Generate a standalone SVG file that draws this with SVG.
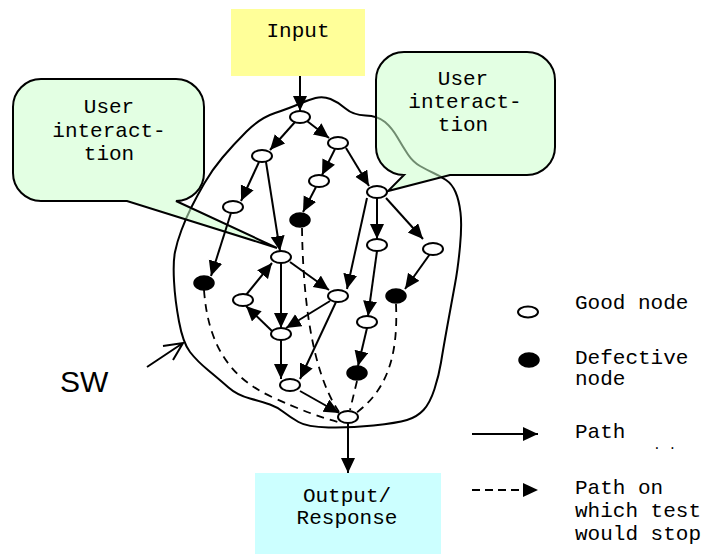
<svg xmlns="http://www.w3.org/2000/svg" width="704" height="554" viewBox="0 0 704 554">
  <style>
    .mono { font-family: "Liberation Mono", "Courier New", monospace; font-size: 21px; fill: #000; }
    .good { fill: #fff; stroke: #000; stroke-width: 2; }
    .bad { fill: #000; stroke: #000; stroke-width: 1.5; }
    .edge { fill: none; stroke: #000; stroke-width: 2; marker-end: url(#arrow); }
    .dash { fill: none; stroke: #000; stroke-width: 1.8; stroke-dasharray: 8 6; }
    .callout { fill: #ccffcc; fill-opacity: 0.55; stroke: #000; stroke-width: 2; stroke-linejoin: miter; }
  </style>
  <defs>
    <marker id="arrow" markerUnits="userSpaceOnUse" markerWidth="17" markerHeight="15" refX="15" refY="7" orient="auto">
      <path d="M0,0 L15,7 L0,14 Z" fill="#000"/>
    </marker>
  </defs>

  <rect width="704" height="554" fill="#fff"/>

  <!-- software boundary -->
  <g id="sw-boundary">
    <path d="M174,281 Q173,262 175,252 Q177,242 181.5,230 Q186,218 191.5,207 Q197,196 204.5,183 Q212,170 222.5,157.5 Q233,145 246.5,131.5 Q260,118 275,113 Q290,108 299,104 Q308,100 315.5,98 Q323,96 330.5,99 Q338,102 345.5,108.5 Q353,115 365.5,115.5 Q378,116 385,122 Q392,128 397.5,137.5 Q403,147 408,154.5 Q413,162 420,166 Q427,170 433.5,173 Q440,176 446,180 Q452,184 455.5,192 Q459,200 460.5,212.5 Q462,225 460,246.5 Q458,268 455,284 Q452,300 447.5,325 Q443,350 441,362.5 Q439,375 434.5,389 Q430,403 423.5,410 Q417,417 407,420 Q397,423 373.5,425.5 Q350,428 328.5,427.5 Q307,427 298.5,422 Q290,417 283.5,412 Q277,407 270,404.5 Q263,402 250,398.5 Q237,395 228.5,387.5 Q220,380 208.5,370.5 Q197,361 190,352 Q183,343 179,321.5 Q175,300 174,281 Z" fill="none" stroke="#000" stroke-width="2"/>
    <path d="M147,367 L183,343 M163,346 L183,343 L173,360" fill="none" stroke="#000" stroke-width="2"/>
    <text x="60" y="392" font-family="'Liberation Sans', Arial, sans-serif" font-size="30">SW</text>
  </g>

  <!-- callouts -->
  <g id="callout-left">
    <path class="callout" d="M41,79 H176 A28,28 0 0 1 204,107 V173 A28,28 0 0 1 176,201 L277,248 L127,201 H41 A28,28 0 0 1 13,173 V107 A28,28 0 0 1 41,79 Z"/>
    <text class="mono" text-anchor="middle" x="109" y="113">User</text>
    <text class="mono" text-anchor="middle" x="109" y="137">interact-</text>
    <text class="mono" text-anchor="middle" x="109" y="160">tion</text>
  </g>
  <g id="callout-right">
    <path class="callout" d="M404,52 H527 A28,28 0 0 1 555,80 V147 A28,28 0 0 1 527,175 H450 L388,191 L404,175 A28,28 0 0 1 376,147 V80 A28,28 0 0 1 404,52 Z"/>
    <text class="mono" text-anchor="middle" x="463" y="85">User</text>
    <text class="mono" text-anchor="middle" x="465" y="108">interact-</text>
    <text class="mono" text-anchor="middle" x="463" y="131">tion</text>
  </g>

  <!-- input / output boxes -->
  <g id="input">
    <rect x="231" y="9" width="134" height="67" fill="#ffff99"/>
    <text class="mono" text-anchor="middle" x="298" y="37">Input</text>
  </g>
  <g id="output">
    <rect x="255" y="473" width="186" height="81" fill="#ccffff"/>
    <text class="mono" text-anchor="middle" x="347" y="502">Output/</text>
    <text class="mono" text-anchor="middle" x="347" y="524">Response</text>
  </g>

  <!-- connectors -->
  <g id="connectors">
    <line class="edge" x1="300" y1="76" x2="300" y2="111"/>
    <line class="edge" x1="295" y1="122" x2="270" y2="150"/>
    <line class="edge" x1="307" y1="121" x2="329" y2="138"/>
    <line class="edge" x1="259" y1="162" x2="241" y2="201"/>
    <line class="edge" x1="266" y1="162" x2="280" y2="251"/>
    <line class="edge" x1="335" y1="149" x2="322" y2="175"/>
    <line class="edge" x1="346" y1="148" x2="369" y2="186"/>
    <line class="edge" x1="316" y1="187" x2="303" y2="212"/>
    <line class="edge" x1="377" y1="198" x2="377" y2="239"/>
    <line class="edge" x1="386" y1="198" x2="423" y2="239"/>
    <line class="edge" x1="367" y1="198" x2="347" y2="289"/>
    <line class="edge" x1="377" y1="251" x2="368" y2="316"/>
    <line class="edge" x1="430" y1="254" x2="405" y2="289"/>
    <line class="edge" x1="231" y1="213" x2="211" y2="276"/>
    <line class="edge" x1="246" y1="295" x2="272" y2="263"/>
    <line class="edge" x1="290" y1="262" x2="329" y2="290"/>
    <line class="edge" x1="281" y1="263" x2="281" y2="328"/>
    <line class="edge" x1="330" y1="301" x2="286" y2="328"/>
    <line class="edge" x1="272" y1="331" x2="246" y2="306"/>
    <line class="edge" x1="281" y1="340" x2="281" y2="379"/>
    <line class="edge" x1="336" y1="302" x2="300" y2="379"/>
    <line class="edge" x1="367" y1="328" x2="358" y2="366"/>
    <line class="edge" x1="300" y1="391" x2="339" y2="413"/>
    <line class="edge" x1="348" y1="423" x2="348" y2="473"/>
    <!-- paths on which a test would stop -->
    <path class="dash" d="M302,228 C303,300 312,372 339,412"/>
    <path class="dash" d="M204,290 C208,345 230,378 272,397 C300,410 320,417 338,422"/>
    <path class="dash" d="M357,381 L350,410"/>
    <path class="dash" d="M396,304 C398,350 390,388 356,413"/>
  </g>

  <!-- nodes -->
  <g id="nodes">
    <ellipse id="n-top" class="good" cx="300" cy="117" rx="10" ry="6"/>
    <ellipse id="n-a" class="good" cx="262" cy="156" rx="10" ry="6"/>
    <ellipse id="n-b" class="good" cx="338" cy="143" rx="10" ry="6"/>
    <ellipse id="n-c" class="good" cx="319" cy="181" rx="10" ry="6"/>
    <ellipse id="n-d" class="bad" cx="300" cy="220" rx="10" ry="7"/>
    <ellipse id="n-e" class="good" cx="233" cy="207" rx="10" ry="6"/>
    <ellipse id="n-f" class="good" cx="377" cy="192" rx="10" ry="6"/>
    <ellipse id="n-g" class="good" cx="377" cy="245" rx="10" ry="6"/>
    <ellipse id="n-h" class="good" cx="433" cy="249" rx="10" ry="6"/>
    <ellipse id="n-i" class="good" cx="281" cy="257" rx="10" ry="6"/>
    <ellipse id="n-j" class="bad" cx="204" cy="283" rx="10" ry="7"/>
    <ellipse id="n-k" class="good" cx="243" cy="300" rx="10" ry="6"/>
    <ellipse id="n-l" class="good" cx="338" cy="296" rx="10" ry="6"/>
    <ellipse id="n-m" class="bad" cx="396" cy="296" rx="10" ry="7"/>
    <ellipse id="n-n" class="good" cx="281" cy="334" rx="10" ry="6"/>
    <ellipse id="n-o" class="good" cx="367" cy="322" rx="10" ry="6"/>
    <ellipse id="n-p" class="bad" cx="357" cy="373" rx="10" ry="7"/>
    <ellipse id="n-q" class="good" cx="290" cy="385" rx="10" ry="6"/>
    <ellipse id="n-r" class="good" cx="348" cy="417" rx="10" ry="6"/>
  </g>

  <!-- legend -->
  <g id="legend">
    <g id="legend-good">
      <ellipse class="good" cx="528" cy="312" rx="10" ry="5.5"/>
      <text class="mono" x="575" y="309">Good node</text>
    </g>
    <g id="legend-defective">
      <ellipse class="bad" cx="529" cy="360" rx="10" ry="7"/>
      <text class="mono" x="575" y="364">Defective</text>
      <text class="mono" x="575" y="385">node</text>
    </g>
    <g id="legend-path">
      <line class="edge" x1="472" y1="434" x2="538" y2="434"/>
      <text class="mono" x="575" y="438">Path</text>
      <text x="653" y="449" font-family="'Liberation Mono', monospace" font-size="13">. .</text>
    </g>
    <g id="legend-stop">
      <line x1="472" y1="490" x2="524" y2="490" stroke="#000" stroke-width="2" stroke-dasharray="8 5"/>
      <path d="M523,483 L538,490 L523,497 Z" fill="#000"/>
      <text class="mono" x="575" y="494">Path on</text>
      <text class="mono" x="575" y="517">which test</text>
      <text class="mono" x="575" y="540">would stop</text>
    </g>
  </g>
</svg>
